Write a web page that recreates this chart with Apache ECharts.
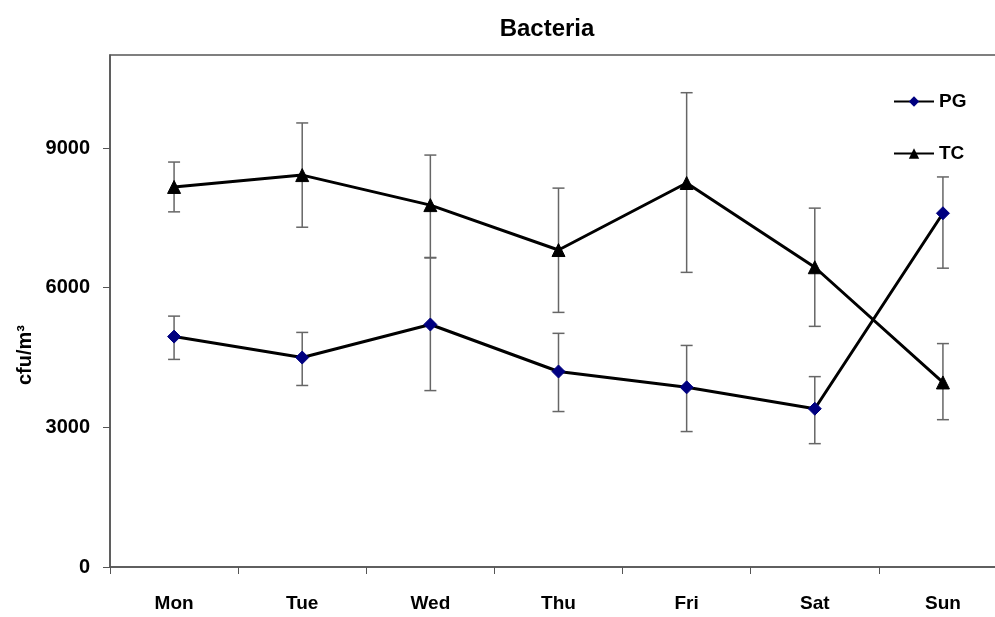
<!DOCTYPE html>
<html>
<head>
<meta charset="utf-8">
<script src="https://cdn.jsdelivr.net/npm/echarts@6/dist/echarts.min.js"></script>
<style>
  html, body { margin: 0; padding: 0; background: #fff; }
  #chart { width: 995px; height: 617px; }
</style>
</head>
<body>
<div id="chart"></div>
<script>
// days of the week
var days = ['Mon', 'Tue', 'Wed', 'Thu', 'Fri', 'Sat', 'Sun'];
// mean values, cfu/m3
var pgMean = [4950, 4500, 5210, 4200, 3860, 3400, 7600];
var tcMean = [8165, 8420, 7775, 6810, 8250, 6440, 3965];
// error bar ends
var pgLow = [4460, 3900, 3790, 3340, 2910, 2650, 6420];
var pgHigh = [5390, 5040, 6640, 5020, 4760, 4090, 8380];
var tcLow = [7630, 7300, 6650, 5470, 6330, 5170, 3165];
var tcHigh = [8700, 9540, 8850, 8140, 10190, 7710, 4800];
var yTicks = [0, 3000, 6000, 9000];

var textFont = 'Liberation Sans, Arial, sans-serif';

function barData(low, high) {
    return days.map(function (d, i) { return [i, low[i], high[i]]; });
}

function renderErrorBar(params, api) {
    var x = api.value(0);
    var lo = api.coord([x, api.value(1)]);
    var hi = api.coord([x, api.value(2)]);
    var half = 6;
    var style = { stroke: '#666', lineWidth: 1.5 };
    return {
        type: 'group',
        children: [
            { type: 'line', shape: { x1: hi[0], y1: hi[1], x2: lo[0], y2: lo[1] }, style: style },
            { type: 'line', shape: { x1: hi[0] - half, y1: hi[1], x2: hi[0] + half, y2: hi[1] }, style: style },
            { type: 'line', shape: { x1: lo[0] - half, y1: lo[1], x2: lo[0] + half, y2: lo[1] }, style: style }
        ]
    };
}

var myChart = echarts.init(document.getElementById('chart'));

var option = {
    backgroundColor: '#fff',
    animation: false,
    title: {
        text: 'Bacteria',
        left: 542,
        top: 12,
        textAlign: 'center',
        textStyle: { fontFamily: textFont, fontWeight: 'bold', fontSize: 24, color: '#000' }
    },
    legend: {
        orient: 'vertical',
        left: 888,
        top: 87,
        itemGap: 33,
        itemWidth: 40,
        itemHeight: 13,
        data: ['PG', 'TC'],
        textStyle: { fontFamily: textFont, fontWeight: 'bold', fontSize: 19, color: '#000' }
    },
    grid: {
        left: 110,
        width: 897,
        top: 55,
        bottom: 50,
        outerBoundsMode: 'none',
        show: true,
        borderColor: '#555',
        borderWidth: 1.5
    },
    xAxis: {
        type: 'category',
        data: days,
        boundaryGap: true,
        axisLine: { lineStyle: { color: '#555', width: 1.5 } },
        axisTick: { show: true, length: 7, lineStyle: { color: '#555' } },
        axisLabel: { margin: 27, fontFamily: textFont, fontWeight: 'bold', fontSize: 19, color: '#000' },
        splitLine: { show: false }
    },
    yAxis: {
        type: 'value',
        min: 0,
        max: 11000,
        interval: 3000,
        axisLine: { show: true, lineStyle: { color: '#555', width: 1.5 } },
        axisTick: { show: true, length: 7, customValues: yTicks, lineStyle: { color: '#555' } },
        axisLabel: {
            margin: 20,
            customValues: yTicks,
            formatter: function (v) { return String(v); },
            fontFamily: textFont,
            fontWeight: 'bold',
            fontSize: 20,
            color: '#000'
        },
        splitLine: { show: false }
    },
    graphic: [{
        type: 'text',
        x: 25,
        y: 355,
        rotation: Math.PI / 2,
        style: {
            text: 'cfu/m³',
            fontFamily: textFont,
            fontWeight: 'bold',
            fontSize: 20,
            fill: '#000',
            align: 'center',
            verticalAlign: 'middle'
        }
    }],
    series: [{
        name: 'PG err',
        type: 'custom',
        renderItem: renderErrorBar,
        data: barData(pgLow, pgHigh),
        z: 1
    }, {
        name: 'TC err',
        type: 'custom',
        renderItem: renderErrorBar,
        data: barData(tcLow, tcHigh),
        z: 1
    }, {
        name: 'PG',
        type: 'line',
        symbol: 'diamond',
        symbolSize: 13,
        z: 3,
        lineStyle: { color: '#000', width: 3 },
        itemStyle: { color: '#000080', borderColor: '#000080' },
        data: pgMean
    }, {
        name: 'TC',
        type: 'line',
        symbol: 'triangle',
        symbolSize: 13,
        z: 3,
        lineStyle: { color: '#000', width: 3 },
        itemStyle: { color: '#000', borderColor: '#000' },
        data: tcMean
    }]
};

myChart.setOption(option);
</script>
</body>
</html>
